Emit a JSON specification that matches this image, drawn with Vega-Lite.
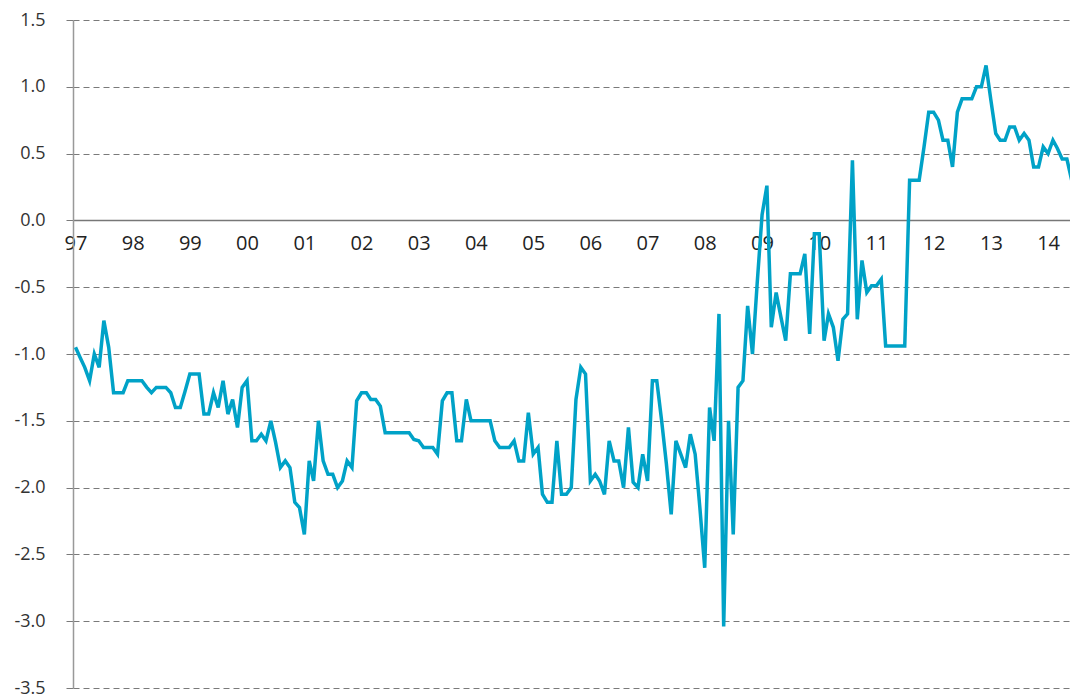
{
  "$schema": "https://vega.github.io/schema/vega-lite/v6.json",
  "width": 997,
  "height": 668,
  "autosize": "none",
  "padding": {"left": 73, "top": 20, "right": 0, "bottom": 9},
  "background": "white",
  "config": {"view": {"stroke": null}, "font": "Open Sans"},
  "data": {"values": [
    {"date":"1997-01-01","v":-0.95},{"date":"1997-02-01","v":-1.03},{"date":"1997-03-01","v":-1.10},{"date":"1997-04-01","v":-1.20},
    {"date":"1997-05-01","v":-1.00},{"date":"1997-06-01","v":-1.10},{"date":"1997-07-01","v":-0.75},{"date":"1997-08-01","v":-0.95},
    {"date":"1997-09-01","v":-1.29},{"date":"1997-10-01","v":-1.29},{"date":"1997-11-01","v":-1.29},{"date":"1997-12-01","v":-1.20},
    {"date":"1998-01-01","v":-1.20},{"date":"1998-02-01","v":-1.20},{"date":"1998-03-01","v":-1.20},{"date":"1998-04-01","v":-1.25},
    {"date":"1998-05-01","v":-1.29},{"date":"1998-06-01","v":-1.25},{"date":"1998-07-01","v":-1.25},{"date":"1998-08-01","v":-1.25},
    {"date":"1998-09-01","v":-1.29},{"date":"1998-10-01","v":-1.40},{"date":"1998-11-01","v":-1.40},{"date":"1998-12-01","v":-1.28},
    {"date":"1999-01-01","v":-1.15},{"date":"1999-02-01","v":-1.15},{"date":"1999-03-01","v":-1.15},{"date":"1999-04-01","v":-1.45},
    {"date":"1999-05-01","v":-1.45},{"date":"1999-06-01","v":-1.29},{"date":"1999-07-01","v":-1.40},{"date":"1999-08-01","v":-1.20},
    {"date":"1999-09-01","v":-1.45},{"date":"1999-10-01","v":-1.34},{"date":"1999-11-01","v":-1.55},{"date":"1999-12-01","v":-1.25},
    {"date":"2000-01-01","v":-1.20},{"date":"2000-02-01","v":-1.65},{"date":"2000-03-01","v":-1.65},{"date":"2000-04-01","v":-1.60},
    {"date":"2000-05-01","v":-1.65},{"date":"2000-06-01","v":-1.50},{"date":"2000-07-01","v":-1.66},{"date":"2000-08-01","v":-1.85},
    {"date":"2000-09-01","v":-1.80},{"date":"2000-10-01","v":-1.85},{"date":"2000-11-01","v":-2.11},{"date":"2000-12-01","v":-2.15},
    {"date":"2001-01-01","v":-2.35},{"date":"2001-02-01","v":-1.80},{"date":"2001-03-01","v":-1.95},{"date":"2001-04-01","v":-1.50},
    {"date":"2001-05-01","v":-1.80},{"date":"2001-06-01","v":-1.90},{"date":"2001-07-01","v":-1.90},{"date":"2001-08-01","v":-2.00},
    {"date":"2001-09-01","v":-1.95},{"date":"2001-10-01","v":-1.80},{"date":"2001-11-01","v":-1.85},{"date":"2001-12-01","v":-1.35},
    {"date":"2002-01-01","v":-1.29},{"date":"2002-02-01","v":-1.29},{"date":"2002-03-01","v":-1.34},{"date":"2002-04-01","v":-1.34},
    {"date":"2002-05-01","v":-1.39},{"date":"2002-06-01","v":-1.59},{"date":"2002-07-01","v":-1.59},{"date":"2002-08-01","v":-1.59},
    {"date":"2002-09-01","v":-1.59},{"date":"2002-10-01","v":-1.59},{"date":"2002-11-01","v":-1.59},{"date":"2002-12-01","v":-1.64},
    {"date":"2003-01-01","v":-1.65},{"date":"2003-02-01","v":-1.70},{"date":"2003-03-01","v":-1.70},{"date":"2003-04-01","v":-1.70},
    {"date":"2003-05-01","v":-1.75},{"date":"2003-06-01","v":-1.35},{"date":"2003-07-01","v":-1.29},{"date":"2003-08-01","v":-1.29},
    {"date":"2003-09-01","v":-1.65},{"date":"2003-10-01","v":-1.65},{"date":"2003-11-01","v":-1.34},{"date":"2003-12-01","v":-1.50},
    {"date":"2004-01-01","v":-1.50},{"date":"2004-02-01","v":-1.50},{"date":"2004-03-01","v":-1.50},{"date":"2004-04-01","v":-1.50},
    {"date":"2004-05-01","v":-1.65},{"date":"2004-06-01","v":-1.70},{"date":"2004-07-01","v":-1.70},{"date":"2004-08-01","v":-1.70},
    {"date":"2004-09-01","v":-1.65},{"date":"2004-10-01","v":-1.80},{"date":"2004-11-01","v":-1.80},{"date":"2004-12-01","v":-1.44},
    {"date":"2005-01-01","v":-1.75},{"date":"2005-02-01","v":-1.70},{"date":"2005-03-01","v":-2.05},{"date":"2005-04-01","v":-2.11},
    {"date":"2005-05-01","v":-2.11},{"date":"2005-06-01","v":-1.65},{"date":"2005-07-01","v":-2.05},{"date":"2005-08-01","v":-2.05},
    {"date":"2005-09-01","v":-2.00},{"date":"2005-10-01","v":-1.34},{"date":"2005-11-01","v":-1.10},{"date":"2005-12-01","v":-1.15},
    {"date":"2006-01-01","v":-1.95},{"date":"2006-02-01","v":-1.90},{"date":"2006-03-01","v":-1.95},{"date":"2006-04-01","v":-2.05},
    {"date":"2006-05-01","v":-1.65},{"date":"2006-06-01","v":-1.80},{"date":"2006-07-01","v":-1.80},{"date":"2006-08-01","v":-2.00},
    {"date":"2006-09-01","v":-1.55},{"date":"2006-10-01","v":-1.96},{"date":"2006-11-01","v":-2.00},{"date":"2006-12-01","v":-1.75},
    {"date":"2007-01-01","v":-1.95},{"date":"2007-02-01","v":-1.20},{"date":"2007-03-01","v":-1.20},{"date":"2007-04-01","v":-1.50},
    {"date":"2007-05-01","v":-1.82},{"date":"2007-06-01","v":-2.20},{"date":"2007-07-01","v":-1.65},{"date":"2007-08-01","v":-1.75},
    {"date":"2007-09-01","v":-1.85},{"date":"2007-10-01","v":-1.60},{"date":"2007-11-01","v":-1.75},{"date":"2007-12-01","v":-2.15},
    {"date":"2008-01-01","v":-2.60},{"date":"2008-02-01","v":-1.40},{"date":"2008-03-01","v":-1.65},{"date":"2008-04-01","v":-0.70},
    {"date":"2008-05-01","v":-3.04},{"date":"2008-06-01","v":-1.50},{"date":"2008-07-01","v":-2.35},{"date":"2008-08-01","v":-1.25},
    {"date":"2008-09-01","v":-1.20},{"date":"2008-10-01","v":-0.64},{"date":"2008-11-01","v":-1.00},{"date":"2008-12-01","v":-0.47},
    {"date":"2009-01-01","v":0.04},{"date":"2009-02-01","v":0.26},{"date":"2009-03-01","v":-0.80},{"date":"2009-04-01","v":-0.54},
    {"date":"2009-05-01","v":-0.72},{"date":"2009-06-01","v":-0.90},{"date":"2009-07-01","v":-0.40},{"date":"2009-08-01","v":-0.40},
    {"date":"2009-09-01","v":-0.40},{"date":"2009-10-01","v":-0.25},{"date":"2009-11-01","v":-0.85},{"date":"2009-12-01","v":-0.10},
    {"date":"2010-01-01","v":-0.10},{"date":"2010-02-01","v":-0.90},{"date":"2010-03-01","v":-0.70},{"date":"2010-04-01","v":-0.80},
    {"date":"2010-05-01","v":-1.05},{"date":"2010-06-01","v":-0.74},{"date":"2010-07-01","v":-0.70},{"date":"2010-08-01","v":0.45},
    {"date":"2010-09-01","v":-0.74},{"date":"2010-10-01","v":-0.30},{"date":"2010-11-01","v":-0.54},{"date":"2010-12-01","v":-0.49},
    {"date":"2011-01-01","v":-0.49},{"date":"2011-02-01","v":-0.44},{"date":"2011-03-01","v":-0.94},{"date":"2011-04-01","v":-0.94},
    {"date":"2011-05-01","v":-0.94},{"date":"2011-06-01","v":-0.94},{"date":"2011-07-01","v":-0.94},{"date":"2011-08-01","v":0.30},
    {"date":"2011-09-01","v":0.30},{"date":"2011-10-01","v":0.30},{"date":"2011-11-01","v":0.55},{"date":"2011-12-01","v":0.81},
    {"date":"2012-01-01","v":0.81},{"date":"2012-02-01","v":0.75},{"date":"2012-03-01","v":0.60},{"date":"2012-04-01","v":0.60},
    {"date":"2012-05-01","v":0.40},{"date":"2012-06-01","v":0.81},{"date":"2012-07-01","v":0.91},{"date":"2012-08-01","v":0.91},
    {"date":"2012-09-01","v":0.91},{"date":"2012-10-01","v":1.00},{"date":"2012-11-01","v":1.00},{"date":"2012-12-01","v":1.16},
    {"date":"2013-01-01","v":0.90},{"date":"2013-02-01","v":0.65},{"date":"2013-03-01","v":0.60},{"date":"2013-04-01","v":0.60},
    {"date":"2013-05-01","v":0.70},{"date":"2013-06-01","v":0.70},{"date":"2013-07-01","v":0.60},{"date":"2013-08-01","v":0.65},
    {"date":"2013-09-01","v":0.60},{"date":"2013-10-01","v":0.40},{"date":"2013-11-01","v":0.40},{"date":"2013-12-01","v":0.55},
    {"date":"2014-01-01","v":0.50},{"date":"2014-02-01","v":0.60},{"date":"2014-03-01","v":0.54},{"date":"2014-04-01","v":0.46},
    {"date":"2014-05-01","v":0.46},{"date":"2014-06-01","v":0.30}
  ]},
  "mark": {"type": "line", "color": "#00A2C7", "strokeWidth": 3.5, "clip": true},
  "encoding": {
    "x": {
      "field": "date",
      "type": "temporal",
      "scale": {"type": "utc", "domain": [{"year": 1996, "month": 12, "date": 16, "utc": true}, {"year": 2014, "month": 5, "date": 21, "utc": true}]},
      "axis": {
        "title": null,
        "format": "%y",
        "tickCount": {"interval": "year", "step": 1},
        "offset": -468,
        "grid": false,
        "ticks": false,
        "domainColor": "#777777",
        "domainWidth": 1.5,
        "labelFontSize": 20,
        "labelColor": "#222222",
        "labelPadding": 13,
        "labelOverlap": false,
        "labelFlush": false
      }
    },
    "y": {
      "field": "v",
      "type": "quantitative",
      "scale": {"domain": [-3.5, 1.5], "nice": false, "zero": false},
      "axis": {
        "title": null,
        "values": [-3.5, -3, -2.5, -2, -1.5, -1, -0.5, 0, 0.5, 1, 1.5],
        "labelExpr": "(datum.value < 0 ? '-' : '') + format(abs(datum.value), '.1f')",
        "grid": true,
        "gridDash": [6, 4],
        "gridColor": "#7a7a7a",
        "gridWidth": 1,
        "tickSize": 7,
        "tickColor": "#7a7a7a",
        "domainColor": "#999999",
        "domainWidth": 1.5,
        "labelFontSize": 18,
        "labelColor": "#333333",
        "labelPadding": 21
      }
    }
  }
}
